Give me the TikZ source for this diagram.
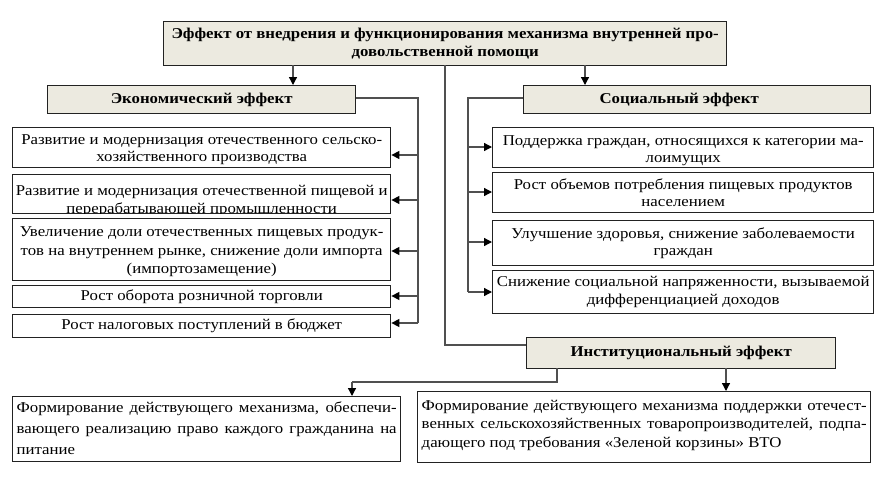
\documentclass[tikz,border=0pt]{standalone}
\usepackage{fontspec}
\setmainfont[FakeStretch=1.12]{Liberation Serif}
\usetikzlibrary{arrows.meta}
\definecolor{headfill}{RGB}{236,234,224}
\definecolor{boxline}{RGB}{34,34,34}
\definecolor{linec}{RGB}{80,80,80}
\tikzset{
  box/.style={draw=boxline, line width=1.4pt, fill=white, inner sep=0pt, anchor=north west},
  headbox/.style={box, fill=headfill},
  txt/.style={font=\fontsize{15}{17.5}\selectfont, align=center, inner sep=0pt},
  headtxt/.style={font=\bfseries\fontsize{15}{18.5}\selectfont, align=center, inner sep=0pt},
  conn/.style={draw=linec, line width=1.3pt},
  arr/.style={conn, -{Triangle[length=8pt,width=8pt]}, arrows={[color=black]}},
}
\begin{document}
\begin{tikzpicture}[x=1pt,y=-1pt]
\useasboundingbox (0,0) rectangle (881,477);
% title
\node[headbox, minimum width=563pt, minimum height=44pt] (T) at (163,21) {};
\node[headtxt] (Tt) at (T.center) {Эффект от внедрения и функционирования механизма внутренней про-\\довольственной помощи};
% headers
\node[headbox, minimum width=308pt, minimum height=28pt] (E) at (47,85) {};
\node[headtxt] (Et) at (E.center) {Экономический эффект};
\node[headbox, minimum width=347pt, minimum height=28pt] (S) at (523,85) {};
\node[headtxt] (St) at ([xshift=-18pt]S.center) {Социальный эффект};
\node[headbox, minimum width=309pt, minimum height=31pt] (I) at (526,337) {};
\node[headtxt] (It) at (I.center) {Институциональный эффект};
% left boxes
\node[box, minimum width=378pt, minimum height=40pt] (L1) at (12,127) {};
\node[txt] (L1t) at ([yshift=-2pt]L1.center) {Развитие и модернизация отечественного сельско-\\хозяйственного производства};
\node[box, minimum width=378pt, minimum height=39pt] (L2) at (12,174) {};
\begin{scope}
  \clip ([shift={(0.7pt,-0.7pt)}]L2.north west) rectangle ([shift={(-0.7pt,0.7pt)}]L2.south east);
  \node[txt] (L2t) at ([yshift=-7pt]L2.center) {Развитие и модернизация отечественной пищевой и\\перерабатывающей промышленности};
\end{scope}
\node[box, minimum width=378pt, minimum height=62pt] (L3) at (12,218) {};
\node[txt, font=\fontsize{15}{18.5}\selectfont] (L3t) at ([yshift=-2pt]L3.center) {Увеличение доли отечественных пищевых продук-\\тов на внутреннем рынке, снижение доли импорта\\(импортозамещение)};
\node[box, minimum width=378pt, minimum height=22pt] (L4) at (12,285) {};
\node[txt] (L4t) at (L4.center) {Рост оборота розничной торговли};
\node[box, minimum width=378pt, minimum height=23pt] (L5) at (12,314) {};
\node[txt] (L5t) at (L5.center) {Рост налоговых поступлений в бюджет};
% right boxes
\node[box, minimum width=381pt, minimum height=40pt] (R1) at (492,127) {};
\node[txt, font=\fontsize{15}{16.5}\selectfont] (R1t) at ([yshift=-3pt]R1.center) {Поддержка граждан, относящихся к категории ма-\\лоимущих};
\node[box, minimum width=381pt, minimum height=40pt] (R2) at (492,172) {};
\node[txt] (R2t) at (R2.center) {Рост объемов потребления пищевых продуктов\\населением};
\node[box, minimum width=381pt, minimum height=45pt] (R3) at (492,220) {};
\node[txt] (R3t) at (R3.center) {Улучшение здоровья, снижение заболеваемости\\граждан};
\node[box, minimum width=381pt, minimum height=43pt] (R4) at (492,270) {};
\node[txt] (R4t) at (R4.center) {Снижение социальной напряженности, вызываемой\\дифференциацией доходов};
% bottom boxes
\node[box, minimum width=388pt, minimum height=65pt] (B1) at (12,396) {};
\node[txt, font=\fontsize{15}{21}\selectfont, align=justify, text width=380pt] (B1t) at ([yshift=1pt]B1.center) {Формирование действующего механизма, обеспечи-\linebreak{}вающего реализацию право каждого гражданина на\linebreak{}питание};
\node[box, minimum width=453pt, minimum height=71pt] (B2) at (417,391) {};
\node[txt, font=\fontsize{15}{18.5}\selectfont, align=justify, text width=445pt] (B2t) at ([yshift=2pt]B2.center) {Формирование действующего механизма поддержки отечест-\linebreak{}венных сельскохозяйственных товаропроизводителей, подпа-\linebreak{}дающего под требования «Зеленой корзины» ВТО};
% connectors from title
\coordinate (tl) at (293,65);
\coordinate (tr) at (585,65);
\coordinate (tc) at (445,65);
\draw[arr] (tl) -- (tl |- E.north);
\draw[arr] (tr) -- (tr |- S.north);
\draw[conn] (tc) |- (I.west |- 0,345);
% economic
\coordinate (ev) at (418,98);
\coordinate (evb) at (418,323);
\draw[conn] (E.east |- ev) -- (ev) -- (evb);
\foreach \n/\y in {L1/155, L2/200, L3/251, L4/296, L5/323}{
  \draw[arr] (418,\y) -- (\n.east |- 0,\y);
}
% social
\coordinate (sv) at (468,98);
\coordinate (svb) at (468,292);
\draw[conn] (S.west |- sv) -- (sv) -- (svb);
\foreach \n/\y in {R1/147, R2/192, R3/242, R4/292}{
  \draw[arr] (468,\y) -- (\n.west |- 0,\y);
}
% institutional
\coordinate (ib) at (557,368);
\coordinate (ibl) at (352,382);
\draw[conn] (ib) |- (ibl);
\draw[arr] (ibl) -- (ibl |- B1.north);
\coordinate (ir) at (726,368);
\draw[arr] (ir) -- (ir |- B2.north);
\end{tikzpicture}
\end{document}
